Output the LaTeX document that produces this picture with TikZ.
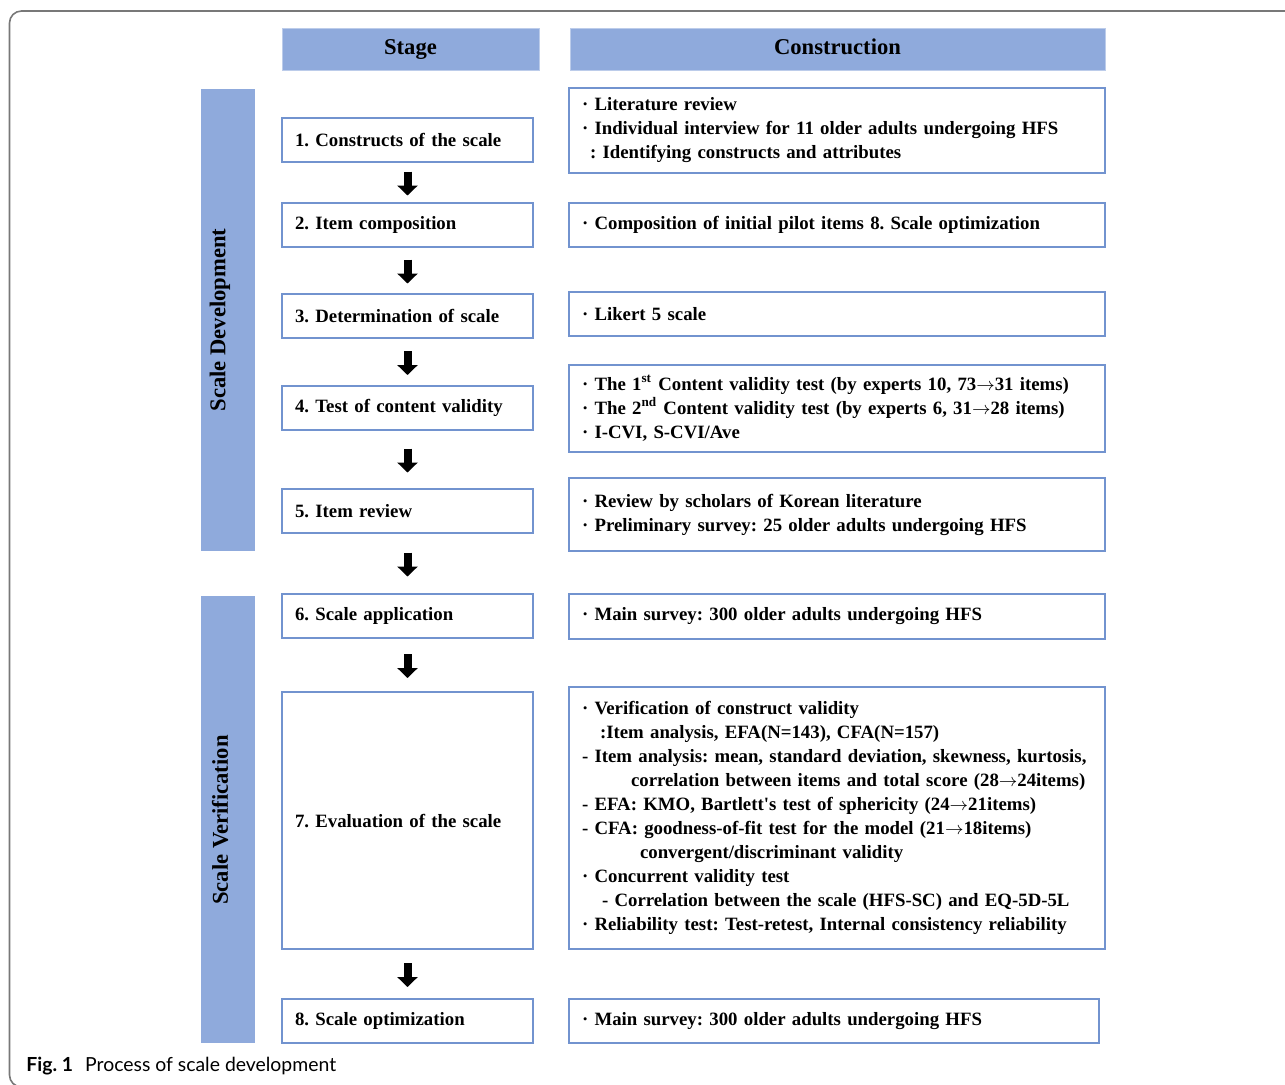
\documentclass[tikz,border=0pt]{standalone}
\usepackage{fontspec}
\setmainfont{Liberation Serif}
\newfontfamily\capfont{Lato}
\usetikzlibrary{arrows.meta, positioning, calc}
\definecolor{HeadBlue}{RGB}{143,170,220}
\definecolor{EdgeBlue}{RGB}{114,147,207}
\definecolor{FrameGray}{RGB}{120,120,120}
\newcommand\bodyfont{\fontsize{9.4}{12}\selectfont\bfseries}
\newcommand\toarr{\ensuremath{\rightarrow}}
\frenchspacing

\tikzset{
  headbar/.style={fill=HeadBlue, draw=HeadBlue!60!white, line width=0.5pt, inner sep=0pt,
    minimum height=21pt, text height=1.6ex, text depth=0.4ex, font=\fontsize{11.3}{13}\selectfont\bfseries},
  sidebar/.style={fill=HeadBlue, rotate=90, inner sep=0pt, minimum height=27pt},
  sidelabel/.style={rotate=90, inner sep=0pt, font=\fontsize{11.3}{13}\selectfont\bfseries},
  stagebox/.style={draw=EdgeBlue, line width=0.75pt, inner xsep=6.5pt, inner ysep=0pt,
    minimum width=125.5pt, minimum height=22pt, text width=112.5pt, align=left, font=\bodyfont},
  buildbox/.style={draw=EdgeBlue, line width=0.75pt, inner xsep=6.5pt, inner ysep=0pt,
    minimum width=268pt, text width=255pt, align=left, font=\bodyfont},
  downarrow/.style={line width=4pt, -{Triangle[width=10pt,length=5pt]}}
}

\begin{document}
\begin{tikzpicture}[x=0.5pt, y=-0.5pt]
    \clip (0,0) rectangle (1285,1084);
    % Frame
    \draw [FrameGray, line width=0.8pt, rounded corners=6pt] (9.5,11) rectangle (1320,1087);

    % Headers
    \node [headbar, minimum width=128.5pt] (stagehead) at (410.5,49) {Stage};
    \node [headbar, minimum width=267.5pt] (buildhead) at (837.5,49) {Construction};

    % Side bars
    \node [sidebar, minimum width=231pt] (devbar) at (228,320) {};
    \node [sidebar, minimum width=223.5pt] (verbar) at (228,819.5) {};
    \node [sidelabel] (devlabel) at (220,320) {Scale Development};
    \node [sidelabel] (verlabel) at (220,820) {Scale Verification};

    % Stages
    \node [stagebox] (s1) at (407.5,140) {1. Constructs of the scale};
    \node [stagebox] (s2) at (407.5,225) {2. Item composition};
    \node [stagebox] (s3) at (407.5,316) {3. Determination of scale};
    \node [stagebox] (s4) at (407.5,408) {4. Test of content validity};
    \node [stagebox] (s5) at (407.5,511) {5. Item review};
    \node [stagebox] (s6) at (407.5,616) {6. Scale application};
    \node [stagebox, minimum height=128.5pt] (s7) at (407.5,820.5) {7. Evaluation of the scale};
    \node [stagebox] (s8) at (407.5,1021) {8. Scale optimization};

    % Construction
    \node [buildbox, minimum height=42.5pt] (c1) at (837,130.5)
        {· Literature review\\
         · Individual interview for 11 older adults undergoing HFS\\
         \hspace*{4pt}: Identifying constructs and attributes};
    \node [buildbox, minimum height=22pt] (c2) at (837,225)
        {· Composition of initial pilot items 8. Scale optimization};
    \node [buildbox, minimum height=22pt] (c3) at (837,314) {· Likert 5 scale};
    \node [buildbox, minimum height=43.5pt] (c4) at (837,408.5)
        {· The 1\textsuperscript{st} Content validity test (by experts 10, 73\toarr31 items)\\
         · The 2\textsuperscript{nd} Content validity test (by experts 6, 31\toarr28 items)\\
         · I-CVI, S-CVI/Ave};
    \node [buildbox, minimum height=36.5pt] (c5) at (837,514.5)
        {· Review by scholars of Korean literature\\
         · Preliminary survey: 25 older adults undergoing HFS};
    \node [buildbox, minimum height=22.5pt] (c6) at (837,616.5)
        {· Main survey: 300 older adults undergoing HFS};
    \node [buildbox, minimum height=131pt] (c7) at (837,818)
        {· Verification of construct validity\\
         \hspace*{9pt}:Item analysis, EFA(N=143), CFA(N=157)\\
         - Item analysis: mean, standard deviation, skewness, kurtosis,\\
         \hspace*{24.5pt}correlation between items and total score (28\toarr24items)\\
         - EFA: KMO, Bartlett\textquotesingle s test of sphericity (24\toarr21items)\\
         - CFA: goodness-of-fit test for the model (21\toarr18items)\\
         \hspace*{29pt}convergent/discriminant validity\\
         · Concurrent validity test\\
         \hspace*{10pt}- Correlation between the scale (HFS-SC) and EQ-5D-5L\\
         · Reliability test: Test-retest, Internal consistency reliability};
    \node [buildbox, minimum width=265pt, text width=252pt, minimum height=22pt] (c8) at (834,1021)
        {· Main survey: 300 older adults undergoing HFS};

    % Arrows
    \foreach \a/\b in {s1/s2, s2/s3, s3/s4, s4/s5, s5/s6, s6/s7, s7/s8}
        \draw [downarrow] ($(\a.south)!0.5!(\b.north)+(0,-11)$) -- ($(\a.south)!0.5!(\b.north)+(0,13)$);

    % Caption
    \node [anchor=base west, inner sep=0pt, font=\capfont\fontsize{9.7}{11}\selectfont] (caption) at (26,1071)
        {\textbf{Fig. 1}\hspace{6pt}Process of scale development};
\end{tikzpicture}
\end{document}
